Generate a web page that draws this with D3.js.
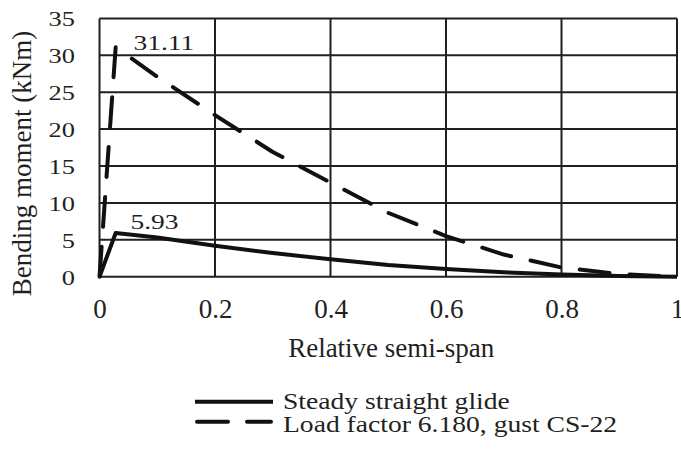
<!DOCTYPE html>
<html>
<head>
<meta charset="utf-8">
<script src="https://cdn.jsdelivr.net/npm/d3@7"></script>
<style>
  html, body { margin: 0; padding: 0; background: #fff; }
  svg { display: block; }
  text { font-family: "Liberation Serif", "Times New Roman", serif; fill: #231f20; }
</style>
</head>
<body>
<svg id="chart" width="681" height="451"></svg>
<script>
// ---- data ----
const span = [0, 0.028, 0.1, 0.2, 0.3, 0.4, 0.5, 0.6, 0.7, 0.8, 0.9, 1.0];
const steadyGlide = [0, 5.93, 5.3, 4.2, 3.2, 2.35, 1.6, 1.05, 0.6, 0.3, 0.08, 0];
const gustLoad = [0, 31.11, 27.1, 21.9, 16.9, 12.75, 8.65, 5.5, 3.0, 1.25, 0.35, 0];
const seriesNames = ["Steady straight glide", "Load factor 6.180, gust CS-22"];
const xTicks = [0, 0.2, 0.4, 0.6, 0.8, 1];
const yTicks = [0, 5, 10, 15, 20, 25, 30, 35];
const peakLabels = ["5.93", "31.11"];

const svg = d3.select("#chart");
const ink = "#231f20";

const x = d3.scaleLinear().domain([0, 1]).range([99.5, 677]);
const y = d3.scaleLinear().domain([0, 35]).range([276.7, 18.4]);

// stretched text helper (reference text is horizontally stretched)
function stext(sel, tx, ty, str, size, sx, anchor) {
  const g = sel.append("g").attr("transform", `translate(${tx},${ty}) scale(${sx},1)`);
  g.append("text").attr("x", 0).attr("y", 0)
    .attr("text-anchor", anchor || "start")
    .style("font-size", size + "px").text(str);
  return g;
}

// grid
const grid = svg.append("g");
grid.selectAll("line.h").data(yTicks).join("line")
  .attr("x1", x(0)).attr("x2", x(1))
  .attr("y1", d => y(d)).attr("y2", d => y(d))
  .attr("stroke", ink).attr("stroke-width", 2);
grid.selectAll("line.v").data(xTicks).join("line")
  .attr("y1", y(0)).attr("y2", y(35))
  .attr("x1", d => x(d)).attr("x2", d => x(d))
  .attr("stroke", ink).attr("stroke-width", 2);

// axes (labels only) via d3 axes
const xAxis = svg.append("g").attr("transform", `translate(0,${y(0)})`)
  .call(d3.axisBottom(x).tickValues(xTicks).tickSize(0).tickPadding(0)
    .tickFormat(d => d3.format("")(+d.toFixed(1))));
xAxis.select(".domain").remove();
xAxis.selectAll("text")
  .attr("y", 41.5).attr("dy", 0)
  .style("font-size", "27px").style("font-family", "Liberation Serif, serif").attr("fill", ink);

const yAxis = svg.append("g").attr("transform", `translate(75,0)`);
yAxis.call(d3.axisLeft(y).tickValues(yTicks).tickSize(0).tickPadding(0));
yAxis.select(".domain").remove();
yAxis.selectAll(".tick text").remove();
yAxis.selectAll(".tick").each(function(d) {
  stext(d3.select(this), 0, 7.5, String(d), 22, 1.2, "end");
});

// axis titles
svg.append("text")
  .attr("x", (x(0) + x(1)) / 2 + 3).attr("y", 357)
  .attr("text-anchor", "middle").style("font-size", "27px")
  .text("Relative semi-span");
svg.append("text")
  .attr("transform", "translate(31,163.5) rotate(-90)")
  .attr("text-anchor", "middle").style("font-size", "27px")
  .text("Bending moment (kNm)");

// lines
const line = (vals) => d3.line()
  .x((d, i) => x(span[i]))
  .y(d => y(d))(vals);

svg.append("path").attr("d", line(steadyGlide))
  .attr("fill", "none").attr("stroke", "#111").attr("stroke-width", 4)
  .attr("stroke-linejoin", "round");
svg.append("path").attr("d", line(gustLoad))
  .attr("fill", "none").attr("stroke", "#111").attr("stroke-width", 4)
  .attr("stroke-dasharray", "30,20").attr("stroke-linecap", "round")
  .attr("stroke-linejoin", "round");

// peak labels
stext(svg, 130.5, 228.5, peakLabels[0], 22, 1.25, "start");
stext(svg, 133.5, 50, peakLabels[1], 22, 1.25, "start");

// legend
const leg = svg.append("g");
leg.append("line").attr("x1", 195).attr("x2", 273).attr("y1", 401.7).attr("y2", 401.7)
  .attr("stroke", "#111").attr("stroke-width", 4);
leg.append("line").attr("x1", 197).attr("x2", 271).attr("y1", 421.7).attr("y2", 421.7)
  .attr("stroke", "#111").attr("stroke-width", 4)
  .attr("stroke-dasharray", "31,19").attr("stroke-linecap", "round");
stext(leg, 283, 409, seriesNames[0], 23, 1.2, "start");
stext(leg, 283, 432, seriesNames[1], 23, 1.2, "start");
</script>
</body>
</html>
